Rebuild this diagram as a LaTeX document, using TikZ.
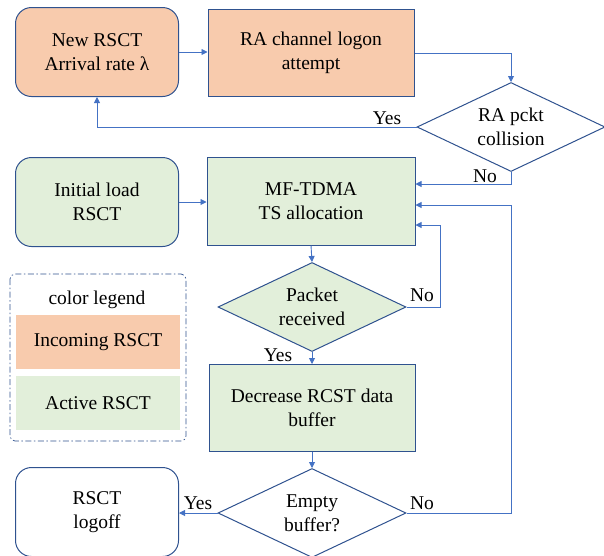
\documentclass[tikz,border=0pt]{standalone}
\usepackage{fontspec}
\setmainfont{Liberation Serif}
\usetikzlibrary{shapes.geometric,arrows.meta}
\definecolor{incoming}{HTML}{F8CBAD}
\definecolor{active}{HTML}{E2EFDA}
\definecolor{edgeblue}{HTML}{2F528F}
\definecolor{linkblue}{HTML}{4472C4}

\begin{document}
\begin{tikzpicture}[x=1pt, y=-1pt, font=\fontsize{19.5}{24}\selectfont,
    startbox/.style={draw=edgeblue, line width=1pt, rounded corners=16pt, align=center,
        minimum width=163pt, minimum height=89pt},
    procbox/.style={draw=edgeblue, line width=1pt, align=center,
        minimum width=206pt, minimum height=87pt},
    decision/.style={diamond, draw=edgeblue, line width=1pt, align=center, aspect=2.11,
        inner sep=0pt, minimum width=188pt, minimum height=89pt},
    keybox/.style={align=center, minimum width=164pt, minimum height=54pt},
    arr/.style={draw=linkblue, line width=0.9pt, -{Triangle[length=6pt,width=6pt]}},
    lbl/.style={inner sep=1pt}]
    \useasboundingbox (0,0) rectangle (604,555);
    \clip (0,0) rectangle (604,555);

    % Incoming terminals: logon over the random access channel
    \node[startbox, fill=incoming] (new) at (97,52) {New RSCT\\Arrival rate λ};
    \node[procbox, fill=incoming] (logon) at (311,53) {RA channel logon\\attempt};
    \node[decision] (coll) at (511,127) {RA pckt\\collision};

    % Active terminals: slot allocation loop
    \node[startbox, fill=active] (init) at (97,202) {Initial load\\RSCT};
    \node[procbox, fill=active, minimum width=208pt, minimum height=88pt] (mf) at (311,201) {MF-TDMA\\TS allocation};
    \node[decision, fill=active] (pkt) at (312,307) {Packet\\received};
    \node[procbox, fill=active] (dec) at (312,408) {Decrease RCST data\\buffer};
    \node[decision] (empty) at (312,513) {Empty\\buffer?};
    \node[startbox] (logoff) at (97,512) {RSCT\\logoff};

    % Color legend
    \draw[edgeblue, line width=0.7pt, dash pattern=on 6pt off 2.5pt on 1.5pt off 2.5pt,
        rounded corners=5pt] (10,274) rectangle (186,441);
    \node (legtitle) at (97,300) {color legend};
    \node[keybox, fill=incoming] (legin) at (98,342) {Incoming RSCT};
    \node[keybox, fill=active] (legact) at (98,403) {Active RSCT};

    % Connectors
    \draw[arr] (new.east) -- (new.east -| logon.west);
    \draw[arr] (logon.east) -| (coll.north);
    \draw[arr] (coll.west) -| (new.south);
    \draw[arr] (coll.south) |- ([yshift=17pt]mf.east);
    \draw[arr] (init.east) -- (init.east -| mf.west);
    \draw[arr] (mf.south) -- (pkt.north);
    \draw[arr] (pkt.east) -- ++(34,0) |- ([yshift=-24pt]mf.east);
    \draw[arr] (pkt.south) -- (dec.north);
    \draw[arr] (dec.south) -- (empty.north);
    \draw[arr] (empty.west) -- (empty.west -| logoff.east);
    \draw[arr] (empty.east) -- (empty.east -| coll.south) |- ([yshift=-4pt]mf.east);

    % Branch labels
    \node[lbl] (yescoll) at (387,118) {Yes};
    \node[lbl] (nocoll) at (485,176) {No};
    \node[lbl] (nopkt) at (422,295) {No};
    \node[lbl] (yespkt) at (278,355) {Yes};
    \node[lbl] (yesempty) at (198,503) {Yes};
    \node[lbl] (noempty) at (422,503) {No};
\end{tikzpicture}
\end{document}
